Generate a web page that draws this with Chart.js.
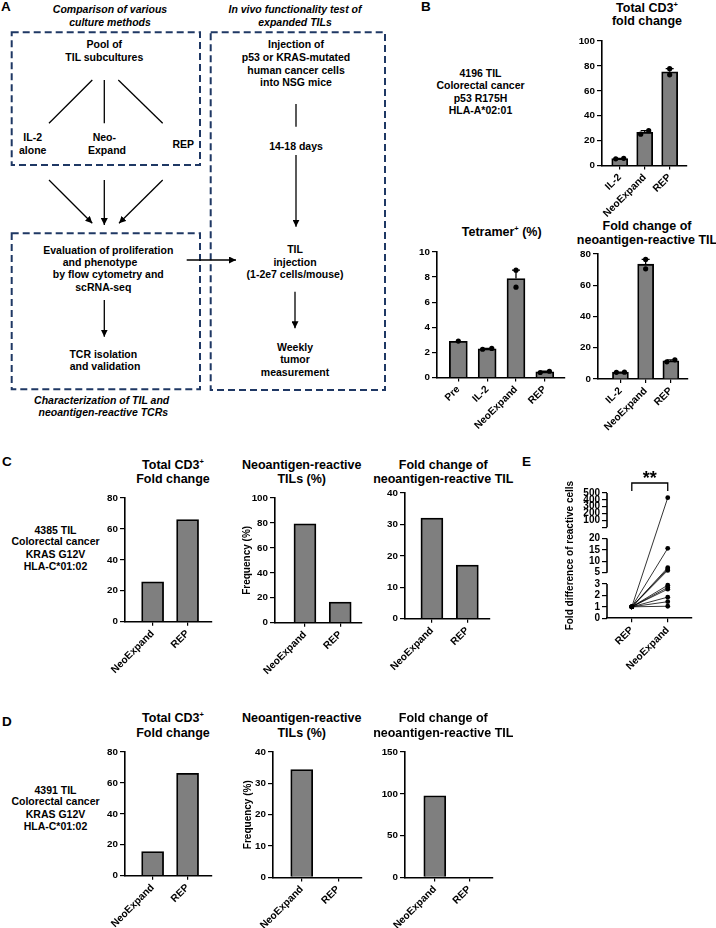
<!DOCTYPE html>
<html>
<head>
<meta charset="utf-8">
<script src="https://cdn.jsdelivr.net/npm/chart.js@4.4.1/dist/chart.umd.min.js"></script>
<style>
    body { margin: 0; background: #fff; }
    #fig { position: relative; width: 716px; height: 928px; overflow: hidden;
           font-family: 'Liberation Sans', Arial, sans-serif; font-weight: bold; color: #000; }
    .t { position: absolute; white-space: nowrap; transform: translate(-50%, -50%); line-height: 1; }
    .l { position: absolute; white-space: nowrap; transform: translate(0, -50%); line-height: 1; }
    canvas { position: absolute; }
    sup { font-size: 0.6em; vertical-align: 0.6em; line-height: 0; }
    svg { position: absolute; left: 0; top: 0; }
</style>
</head>
<body>
<div id="fig">
<svg width="420" height="420" viewBox="0 0 420 420">
    <defs>
        <marker id="ah" viewBox="0 0 10 10" refX="10" refY="5" markerWidth="7" markerHeight="7"
                markerUnits="userSpaceOnUse" orient="auto">
            <path d="M0,0 L10,5 L0,10 z" fill="#000"/>
        </marker>
    </defs>
    <g fill="none" stroke="#1f3864" stroke-width="2" stroke-dasharray="7 4">
        <rect x="11.7" y="32.3" width="188.3" height="132.7"/>
        <rect x="210.7" y="32.3" width="174.3" height="357.7"/>
        <rect x="11.7" y="233.3" width="188.3" height="156"/>
    </g>
    <g stroke="#000" stroke-width="1.3" fill="none">
        <line x1="92.3" y1="80" x2="49" y2="123.3"/>
        <line x1="104.3" y1="80" x2="104.3" y2="123.3"/>
        <line x1="118.3" y1="80" x2="162.7" y2="123.3"/>
        <line x1="49" y1="180" x2="92.3" y2="223.3" marker-end="url(#ah)"/>
        <line x1="104.3" y1="180" x2="104.3" y2="225" marker-end="url(#ah)"/>
        <line x1="162.7" y1="180" x2="119" y2="223.3" marker-end="url(#ah)"/>
        <line x1="104.3" y1="300" x2="104.3" y2="336.7" marker-end="url(#ah)"/>
        <line x1="186.7" y1="260" x2="236" y2="260" marker-end="url(#ah)"/>
        <line x1="296" y1="104" x2="296" y2="126.7"/>
        <line x1="296" y1="155" x2="296" y2="226.7" marker-end="url(#ah)"/>
        <line x1="295" y1="291.7" x2="295" y2="328.3" marker-end="url(#ah)"/>
    </g>
</svg>
</div>
<script>
// ---- panel B : 4196 TIL ----
const B_CATS = ['IL-2', 'NeoExpand', 'REP'];
const B_TET_CATS = ['Pre', 'IL-2', 'NeoExpand', 'REP'];

const B_CD3_MEAN = [5.6, 26.6, 75.3];
const B_CD3_ERR = [0.2, 1.4, 2.5];
const B_CD3_PTS = [[5.4, 5.8], [25.2, 28.0], [77.8, 72.8]];
const B_CD3_TICKS = [0, 20, 40, 60, 80, 100];

const B_TET_MEAN = [2.88, 2.28, 7.88, 0.45];
const B_TET_ERR = [0, 0.04, 0.68, 0.05];
const B_TET_PTS = [[2.9], [2.25, 2.32], [8.55, 7.2], [0.4, 0.5]];
const B_TET_TICKS = [0, 2, 4, 6, 8, 10];

const B_FOLD_MEAN = [4.35, 73.5, 11.6];
const B_FOLD_ERR = [0.05, 3.0, 0.65];
const B_FOLD_PTS = [[4.3, 4.4], [76.5, 70.5], [11.0, 12.3]];
const B_FOLD_TICKS = [0, 20, 40, 60, 80];

// ---- panels C and D ----
const CD_CATS = ['NeoExpand', 'REP'];
const C_CD3 = [25.8, 66];
const C_FREQ = [79.3, 16.5];
const C_FOLD = [32, 17.1];
const D_CD3 = [15.6, 66.2];
const D_FREQ = [34.4, 0];
const D_FOLD = [97.7, 0];
const TICKS_0_80 = [0, 20, 40, 60, 80];
const TICKS_0_100 = [0, 20, 40, 60, 80, 100];
const TICKS_0_40 = [0, 10, 20, 30, 40];
const TICKS_0_150 = [0, 50, 100, 150];

// ---- panel E : paired fold difference ----
const E_CATS = ['REP', 'NeoExpand'];
const E_REP = [1, 1, 1, 1, 1, 1, 1, 1, 1, 1, 1];
const E_NEO = [431, 15.7, 7.2, 6.6, 6.0, 2.9, 2.7, 2.55, 1.85, 1.45, 1.05];
const E_TICKS_LOW = [0, 1, 2, 3];
const E_TICKS_MID = [5, 10, 15, 20];
const E_TICKS_HIGH = [100, 200, 300, 400, 500];

const FONT = "'Liberation Sans', Arial, sans-serif";
const GREY = '#7f7f7f';
const fig = document.getElementById('fig');

Chart.defaults.font.family = FONT;
Chart.defaults.font.weight = 'bold';
Chart.defaults.font.size = 9.8;
Chart.defaults.color = '#000';
Chart.defaults.animation = false;

function txt(html, x, y, size, italic) {
    const d = document.createElement('div');
    d.className = 't';
    d.innerHTML = html;
    d.style.left = x + 'px';
    d.style.top = y + 'px';
    d.style.fontSize = size + 'px';
    if (italic) d.style.fontStyle = 'italic';
    fig.appendChild(d);
}

function letter(s, x, y) {
    const d = document.createElement('div');
    d.className = 'l';
    d.textContent = s;
    d.style.left = x + 'px';
    d.style.top = y + 'px';
    d.style.fontSize = '13.5px';
    fig.appendChild(d);
}

// error bar (upper half only, like the original) drawn right after the bars
const errorBars = {
    id: 'errorBars',
    afterDatasetDraw(chart, args) {
        const ds = chart.data.datasets[args.index];
        if (!ds.errs) return;
        const ctx = chart.ctx, ys = chart.scales.y;
        ctx.save();
        ctx.strokeStyle = '#000';
        ctx.lineWidth = 1.3;
        args.meta.data.forEach((bar, i) => {
            if (!ds.errs[i]) return;
            const top = ys.getPixelForValue(ds.data[i].y + ds.errs[i]);
            ctx.beginPath();
            ctx.moveTo(bar.x, bar.y);
            ctx.lineTo(bar.x, top);
            ctx.moveTo(bar.x - 4, top);
            ctx.lineTo(bar.x + 4, top);
            ctx.stroke();
        });
        ctx.restore();
    }
};

function axisStyle(len) {
    return {
        grid: { display: true, drawOnChartArea: false, drawTicks: true, tickLength: len,
                color: '#000', lineWidth: 1.2, offset: false },
        border: { display: true, color: '#000', width: 1.6 }
    };
}

// o.rect = [left, top, right, bottom] of the plot area on the page
function barChart(o) {
    const yw = o.yw || 40, pt = 8;
    const [l, t, r, b] = o.rect;
    const W = Math.ceil(r - l + yw + 6), pr = W - (r - l) - yw;
    const H = Math.ceil(b - t + pt + 66), xh = H - (b - t) - pt;
    const cv = document.createElement('canvas');
    cv.width = W; cv.height = H;
    cv.style.left = (l - yw) + 'px';
    cv.style.top = (t - pt) + 'px';
    cv.style.width = W + 'px';
    cv.style.height = H + 'px';
    fig.appendChild(cv);

    const ymax = o.ticks[o.ticks.length - 1];
    const datasets = [{
        type: 'bar',
        data: o.means.map((v, i) => ({ x: i, y: v })),
        errs: o.errs,
        backgroundColor: GREY,
        borderColor: '#000',
        borderWidth: 1.8,
        borderSkipped: 'start',
        barThickness: o.barW,
        order: 2
    }];
    if (o.pts) {
        const pxPerUnit = (b - t) / ymax;
        const pts = [];
        o.pts.forEach((arr, i) => {
            const close = arr.length > 1 && Math.abs(arr[0] - arr[1]) * pxPerUnit < 5;
            arr.forEach((v, k) => pts.push({ x: close ? i + (k ? 0.16 : -0.16) : i, y: v }));
        });
        datasets.push({
            type: 'scatter', data: pts, pointRadius: 2.6,
            backgroundColor: '#000', borderWidth: 0, order: 1
        });
    }

    new Chart(cv, {
        type: 'bar',
        data: { datasets: datasets },
        options: {
            responsive: false,
            animation: false,
            layout: { padding: { left: 0, top: pt, right: pr, bottom: 0 } },
            plugins: { legend: { display: false }, tooltip: { enabled: false } },
            scales: {
                x: {
                    type: 'linear', min: o.xmin, max: o.xmax, offset: false,
                    afterBuildTicks: s => { s.ticks = o.cats.map((c, i) => ({ value: i })); },
                    afterFit: s => { s.height = xh; },
                    ticks: { callback: v => o.cats[v], autoSkip: false, minRotation: 45, maxRotation: 45,
                             font: { size: 10.2 }, padding: 2 },
                    ...axisStyle(4)
                },
                y: {
                    type: 'linear', min: 0, max: ymax,
                    afterBuildTicks: s => { s.ticks = o.ticks.map(v => ({ value: v })); },
                    afterFit: s => { s.width = yw; },
                    ticks: { autoSkip: false, padding: 2, callback: v => String(v) },
                    title: o.yTitle ? { display: true, text: o.yTitle, font: { size: 10 },
                                        padding: { top: 4, bottom: 4 } } : { display: false },
                    ...axisStyle(5)
                }
            }
        },
        plugins: [errorBars]
    });
}

// broken y axis of panel E: three pieces of 3 units each, 1 unit gap between them
function brk(v) {
    if (v <= 3) return v;
    if (v <= 20) return 4 + (v - 5) / 5;
    return 8 + v / 500 * 3;
}

const eAxis = {
    id: 'eAxis',
    afterDraw(chart) {
        const { ctx, chartArea, scales: { x, y } } = chart;
        ctx.save();
        ctx.strokeStyle = '#000';
        ctx.lineWidth = 1.6;
        [[0, 3], [4, 7], [8, 11]].forEach(([a, c]) => {
            ctx.beginPath();
            ctx.moveTo(chartArea.left, y.getPixelForValue(a));
            ctx.lineTo(chartArea.left, y.getPixelForValue(c));
            ctx.stroke();
        });
        const x0 = x.getPixelForValue(0), x1 = x.getPixelForValue(1), yb = chartArea.top - 10;
        ctx.lineWidth = 1.3;
        ctx.beginPath();
        ctx.moveTo(x0, yb + 8); ctx.lineTo(x0, yb); ctx.lineTo(x1, yb); ctx.lineTo(x1, yb + 8);
        ctx.stroke();
        ctx.fillStyle = '#000';
        ctx.font = 'bold 18px ' + FONT;
        ctx.textAlign = 'center';
        ctx.textBaseline = 'alphabetic';
        ctx.fillText('**', (x0 + x1) / 2, yb + 1);
        ctx.restore();
    }
};

function panelE() {
    const yw = 47, pt = 28;
    const [l, t, r, b] = [607, 493.3, 692, 618.5];
    const W = Math.ceil(r - l + yw + 8), pr = W - (r - l) - yw;
    const H = Math.ceil(b - t + pt + 66), xh = H - (b - t) - pt;
    const cv = document.createElement('canvas');
    cv.width = W; cv.height = H;
    cv.style.left = (l - yw) + 'px';
    cv.style.top = (t - pt) + 'px';
    cv.style.width = W + 'px';
    cv.style.height = H + 'px';
    fig.appendChild(cv);

    const tickLabels = new Map();
    E_TICKS_LOW.forEach(v => tickLabels.set(brk(v).toFixed(3), String(v)));
    E_TICKS_MID.forEach(v => tickLabels.set(brk(v).toFixed(3), String(v)));
    tickLabels.set((8).toFixed(3), '');
    E_TICKS_HIGH.forEach(v => tickLabels.set(brk(v).toFixed(3), String(v)));
    const tickVals = [...tickLabels.keys()].map(Number);

    const datasets = E_NEO.map((v, i) => ({
        type: 'line',
        data: [{ x: 0, y: brk(E_REP[i]) }, { x: 1, y: brk(v) }],
        borderColor: '#000', borderWidth: 0.8,
        pointRadius: 2.4, pointBackgroundColor: '#000', pointBorderWidth: 0
    }));

    new Chart(cv, {
        type: 'line',
        data: { datasets: datasets },
        options: {
            responsive: false,
            animation: false,
            layout: { padding: { left: 0, top: pt, right: pr, bottom: 0 } },
            plugins: { legend: { display: false }, tooltip: { enabled: false } },
            scales: {
                x: {
                    type: 'linear', min: -0.69, max: 1.675,
                    afterBuildTicks: s => { s.ticks = E_CATS.map((c, i) => ({ value: i })); },
                    afterFit: s => { s.height = xh; },
                    ticks: { callback: v => E_CATS[v], autoSkip: false, minRotation: 45, maxRotation: 45,
                             font: { size: 10.2 }, padding: 2 },
                    ...axisStyle(4)
                },
                y: {
                    type: 'linear', min: 0, max: 11,
                    afterBuildTicks: s => { s.ticks = tickVals.map(v => ({ value: v })); },
                    afterFit: s => { s.width = yw; },
                    ticks: { autoSkip: false, padding: 2, font: { size: 10 },
                             callback: v => tickLabels.get(Number(v).toFixed(3)) },
                    title: { display: true, text: 'Fold difference of reactive cells', font: { size: 10 },
                             padding: { top: 4, bottom: 4 } },
                    grid: { display: true, drawOnChartArea: false, drawTicks: true, tickLength: 5,
                            color: '#000', lineWidth: 1.2 },
                    border: { display: false }
                }
            }
        },
        plugins: [eAxis]
    });
}

// ---------- panel A (flow scheme) ----------
letter('A', 1, 7);
[['Comparison of various', 110, 9], ['culture methods', 110, 21.7],
 ['In vivo functionality test of', 295, 9], ['expanded TILs', 295, 21.7],
 ['Characterization of TIL and', 101.7, 400], ['neoantigen-reactive TCRs', 103.3, 412.3]]
    .forEach(([s, x, y]) => txt(s, x, y, 10.5, true));
[['Pool of', 104.3, 44.3], ['TIL subcultures', 104.3, 57],
 ['IL-2', 32.7, 137.3], ['alone', 32.7, 150], ['Neo-', 104.3, 137.3], ['Expand', 107, 150], ['REP', 183.3, 144],
 ['Evaluation of proliferation', 108.3, 250], ['and phenotype', 100, 262.3],
 ['by flow cytometry and', 108.3, 274.3], ['scRNA-seq', 103.3, 287.3],
 ['TCR isolation', 103.3, 354], ['and validation', 105, 366],
 ['Injection of', 296, 44.3], ['p53 or KRAS-mutated', 296, 57], ['human cancer cells', 296, 69.7],
 ['into NSG mice', 296, 82], ['14-18 days', 296, 145.7],
 ['TIL', 295, 249.3], ['injection', 295, 261.7], ['(1-2e7 cells/mouse)', 295, 274.3],
 ['Weekly', 295, 346.7], ['tumor', 295, 359], ['measurement', 295, 372]]
    .forEach(([s, x, y]) => txt(s, x, y, 10.5));

// ---------- panel B ----------
letter('B', 421, 7);
[['4196 TIL', 480.5, 72.5], ['Colorectal cancer', 480.5, 85], ['p53 R175H', 480.5, 97.5],
 ['HLA-A*02:01', 480.5, 110]].forEach(([s, x, y]) => txt(s, x, y, 10.5));
txt('Total CD3<sup>+</sup>', 647, 8, 12.5);
txt('fold change', 647, 20.5, 12.5);
txt('Tetramer<sup>+</sup> (%)', 501.7, 232, 12.5);
txt('Fold change of', 647, 226, 12.5);
txt('neoantigen-reactive TIL', 647, 240, 12.5);

barChart({ rect: [602.3, 41, 686.7, 165.5], cats: B_CATS, means: B_CD3_MEAN, errs: B_CD3_ERR,
           pts: B_CD3_PTS, ticks: B_CD3_TICKS, xmin: -0.71, xmax: 2.67, barW: 16 });
barChart({ rect: [437.3, 252, 565, 377.5], cats: B_TET_CATS, means: B_TET_MEAN, errs: B_TET_ERR,
           pts: B_TET_PTS, ticks: B_TET_TICKS, xmin: -0.74, xmax: 3.69, barW: 18 });
barChart({ rect: [598, 253.5, 688, 378.5], cats: B_CATS, means: B_FOLD_MEAN, errs: B_FOLD_ERR,
           pts: B_FOLD_PTS, ticks: B_FOLD_TICKS, xmin: -0.89, xmax: 2.68, barW: 16 });

// ---------- panel C ----------
letter('C', 2, 461.7);
[['4385 TIL', 55.5, 529.5], ['Colorectal cancer', 55.5, 541], ['KRAS G12V', 55.5, 553.5],
 ['HLA-C*01:02', 55.5, 566]].forEach(([s, x, y]) => txt(s, x, y, 10.5));
txt('Total CD3<sup>+</sup>', 173, 465, 12.5);
txt('Fold change', 173, 479, 12.5);
txt('Neoantigen-reactive', 301.7, 465, 12.5);
txt('TILs (%)', 301.7, 479, 12.5);
txt('Fold change of', 443.3, 465, 12.5);
txt('neoantigen-reactive TIL', 443.3, 479, 12.5);

barChart({ rect: [125, 498.3, 211.7, 622], cats: CD_CATS, means: C_CD3, ticks: TICKS_0_80,
           xmin: -0.79, xmax: 1.69, barW: 22 });
barChart({ rect: [275, 498.3, 361.7, 623], cats: CD_CATS, means: C_FREQ, ticks: TICKS_0_100,
           xmin: -0.85, xmax: 1.61, barW: 22, yTitle: 'Frequency (%)', yw: 38 });
barChart({ rect: [405, 493.3, 490, 619], cats: CD_CATS, means: C_FOLD, ticks: TICKS_0_40,
           xmin: -0.76, xmax: 1.64, barW: 22 });

// ---------- panel E ----------
letter('E', 522, 461.7);
panelE();

// ---------- panel D ----------
letter('D', 2, 721.7);
[['4391 TIL', 55.5, 789.5], ['Colorectal cancer', 55.5, 801], ['KRAS G12V', 55.5, 813.5],
 ['HLA-C*01:02', 55.5, 826]].forEach(([s, x, y]) => txt(s, x, y, 10.5));
txt('Total CD3<sup>+</sup>', 173, 718, 12.5);
txt('Fold change', 173, 732.7, 12.5);
txt('Neoantigen-reactive', 301.7, 718, 12.5);
txt('TILs (%)', 301.7, 732.7, 12.5);
txt('Fold change of', 443.3, 718, 12.5);
txt('neoantigen-reactive TIL', 443.3, 732.7, 12.5);

barChart({ rect: [125, 752.3, 211.7, 876], cats: CD_CATS, means: D_CD3, ticks: TICKS_0_80,
           xmin: -0.79, xmax: 1.69, barW: 22 });
barChart({ rect: [273.3, 752.3, 361.7, 877.7], cats: CD_CATS, means: D_FREQ, ticks: TICKS_0_40,
           xmin: -0.79, xmax: 1.64, barW: 22, yTitle: 'Frequency (%)', yw: 35 });
barChart({ rect: [405, 752.3, 493, 877.7], cats: CD_CATS, means: D_FOLD, ticks: TICKS_0_150,
           xmin: -0.86, xmax: 1.68, barW: 22 });
</script>
</body>
</html>
